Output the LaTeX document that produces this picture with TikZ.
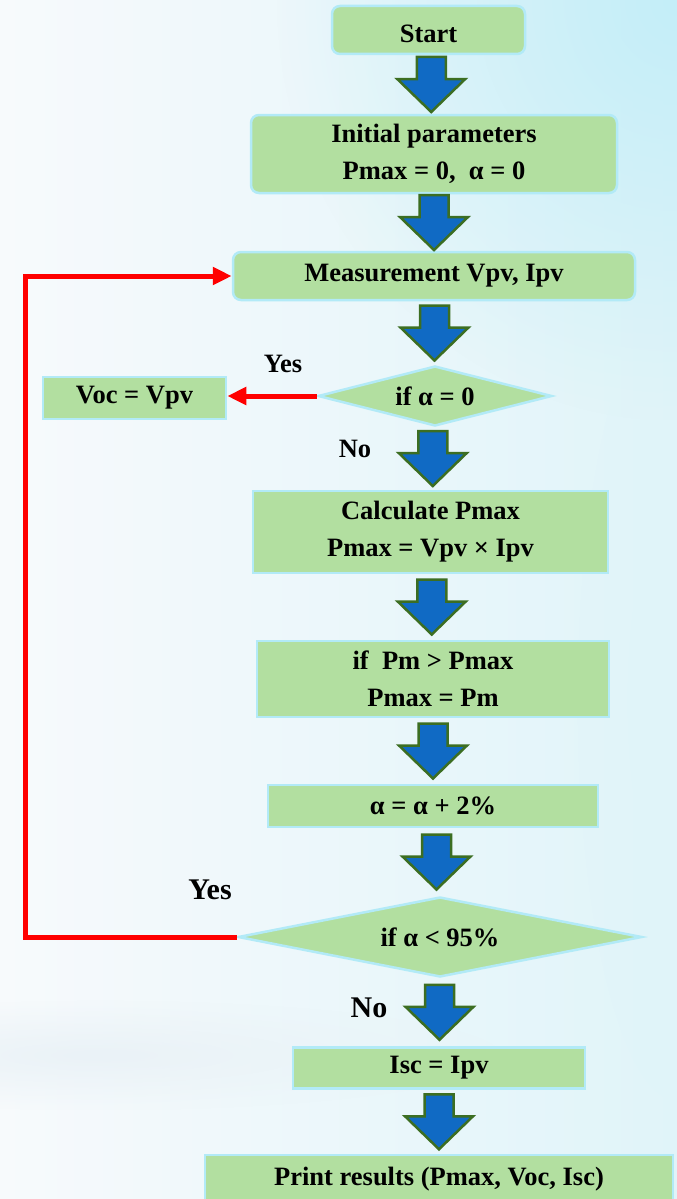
\documentclass[tikz,border=0pt]{standalone}
\usepackage{fontspec}
\setmainfont{Liberation Serif}
\usetikzlibrary{shapes.geometric,arrows.meta,calc,fadings}
\definecolor{boxfill}{RGB}{178,223,160}
\definecolor{boxline}{RGB}{178,234,247}
\definecolor{arrfill}{RGB}{16,106,196}
\definecolor{arrline}{RGB}{60,110,34}
\definecolor{bgbase}{RGB}{247,250,252}
\definecolor{bgright}{RGB}{224,244,249}
\definecolor{bgcorner}{RGB}{196,238,248}
\definecolor{bgband}{RGB}{234,242,247}
\definecolor{loopred}{RGB}{255,0,0}
\tikzfading[name=cornerfade, inner color=transparent!0, outer color=transparent!100]
\tikzset{
  every node/.style={font=\bfseries\fontsize{26.5}{37}\selectfont, inner sep=0pt},
  box/.style={draw=boxline, line width=2.5pt, fill=boxfill, align=center},
  rbox/.style={box, rounded corners=8pt},
  dia/.style={box, shape=diamond},
  lbl/.style={font=\bfseries\fontsize{26.5}{32}\selectfont},
  biglbl/.style={font=\bfseries\fontsize{30}{36}\selectfont},
  redline/.style={draw=loopred, line width=5pt, -{Triangle[length=19pt,width=17pt]}},
  blkarrow/.style={fill=arrfill, draw=arrline, line width=2.5pt, line join=miter},
  blk/.pic={\draw[blkarrow] (-14.5,-27.5) -- (14.5,-27.5) -- (14.5,-5.5) -- (34,-5.5)
      -- (0,27.5) -- (-34,-5.5) -- (-14.5,-5.5) -- cycle;}
}
\begin{document}
\begin{tikzpicture}[x=1pt,y=-1pt]
\useasboundingbox (0,0) rectangle (677,1199);
\clip (0,0) rectangle (677,1199);
\shade[left color=bgbase, right color=bgright] (0,0) rectangle (677,1199);
\fill[bgcorner, path fading=cornerfade, fit fading=true] (277,-420) rectangle (1077,420);
\fill[bgright, path fading=cornerfade, fit fading=true] (577,300) rectangle (777,1100);
\fill[bgband, path fading=cornerfade, fit fading=true] (-300,1000) rectangle (500,1110);

\node[rbox, minimum width=193pt, minimum height=48pt, text height=26pt, text depth=0pt] (start) at (428.5,30) {Start};
\node[rbox, minimum width=366pt, minimum height=78pt] (init) at (434,154) {Initial parameters\\Pmax = 0,\ \ α = 0};
\node[rbox, minimum width=402pt, minimum height=48pt] (meas) at (434,276) {Measurement Vpv, Ipv};
\node[dia, minimum width=234pt, minimum height=60pt, aspect=3.9] (d1) at (435,396) {if α = 0};
\node[box, minimum width=183pt, minimum height=42pt] (voc) at (134.5,398) {Voc = Vpv};
\node[box, minimum width=355pt, minimum height=82pt] (calc) at (430.5,532) {Calculate Pmax\\Pmax = Vpv × Ipv};
\node[box, minimum width=352pt, minimum height=76pt] (pm) at (433,679) {if\ \ Pm > Pmax\\Pmax = Pm};
\node[box, minimum width=330pt, minimum height=42pt] (alpha) at (433,806) {α = α + 2\%};
\node[dia, minimum width=404pt, minimum height=80pt, aspect=5] (d2) at (440,937) {if α < 95\%};
\node[box, minimum width=292pt, minimum height=41pt] (isc) at (439,1068) {Isc = Ipv};
\node[box, minimum width=468pt, minimum height=48pt] (print) at (439,1179) {Print results (Pmax, Voc, Isc)};

\pic at ($(start.south)!0.5!(init.north)$) {blk};
\pic at ($(init.south)!0.5!(meas.north)$) {blk};
\pic at ($(meas.south)!0.5!(d1.north)$) {blk};
\pic at ($(d1.south)!0.5!(calc.north)$) {blk};
\pic at ($(calc.south)!0.5!(pm.north)$) {blk};
\pic at ($(pm.south)!0.5!(alpha.north)$) {blk};
\pic at ($(alpha.south)!0.5!(d2.north)$) {blk};
\pic at ($(d2.south)!0.5!(isc.north)$) {blk};
\pic at ($(isc.south)!0.5!(print.north)$) {blk};

\coordinate (corner) at (25,937);
\draw[redline] (d1.west) -- (d1.west -| voc.east);
\draw[redline] (d2.west) -- (corner) |- (meas.west);

\node[lbl] (yes1) at (283,364) {Yes};
\node[lbl] (no1) at (355,449) {No};
\node[biglbl] (yes2) at (210,890) {Yes};
\node[biglbl] (no2) at (369,1008) {No};
\end{tikzpicture}
\end{document}
